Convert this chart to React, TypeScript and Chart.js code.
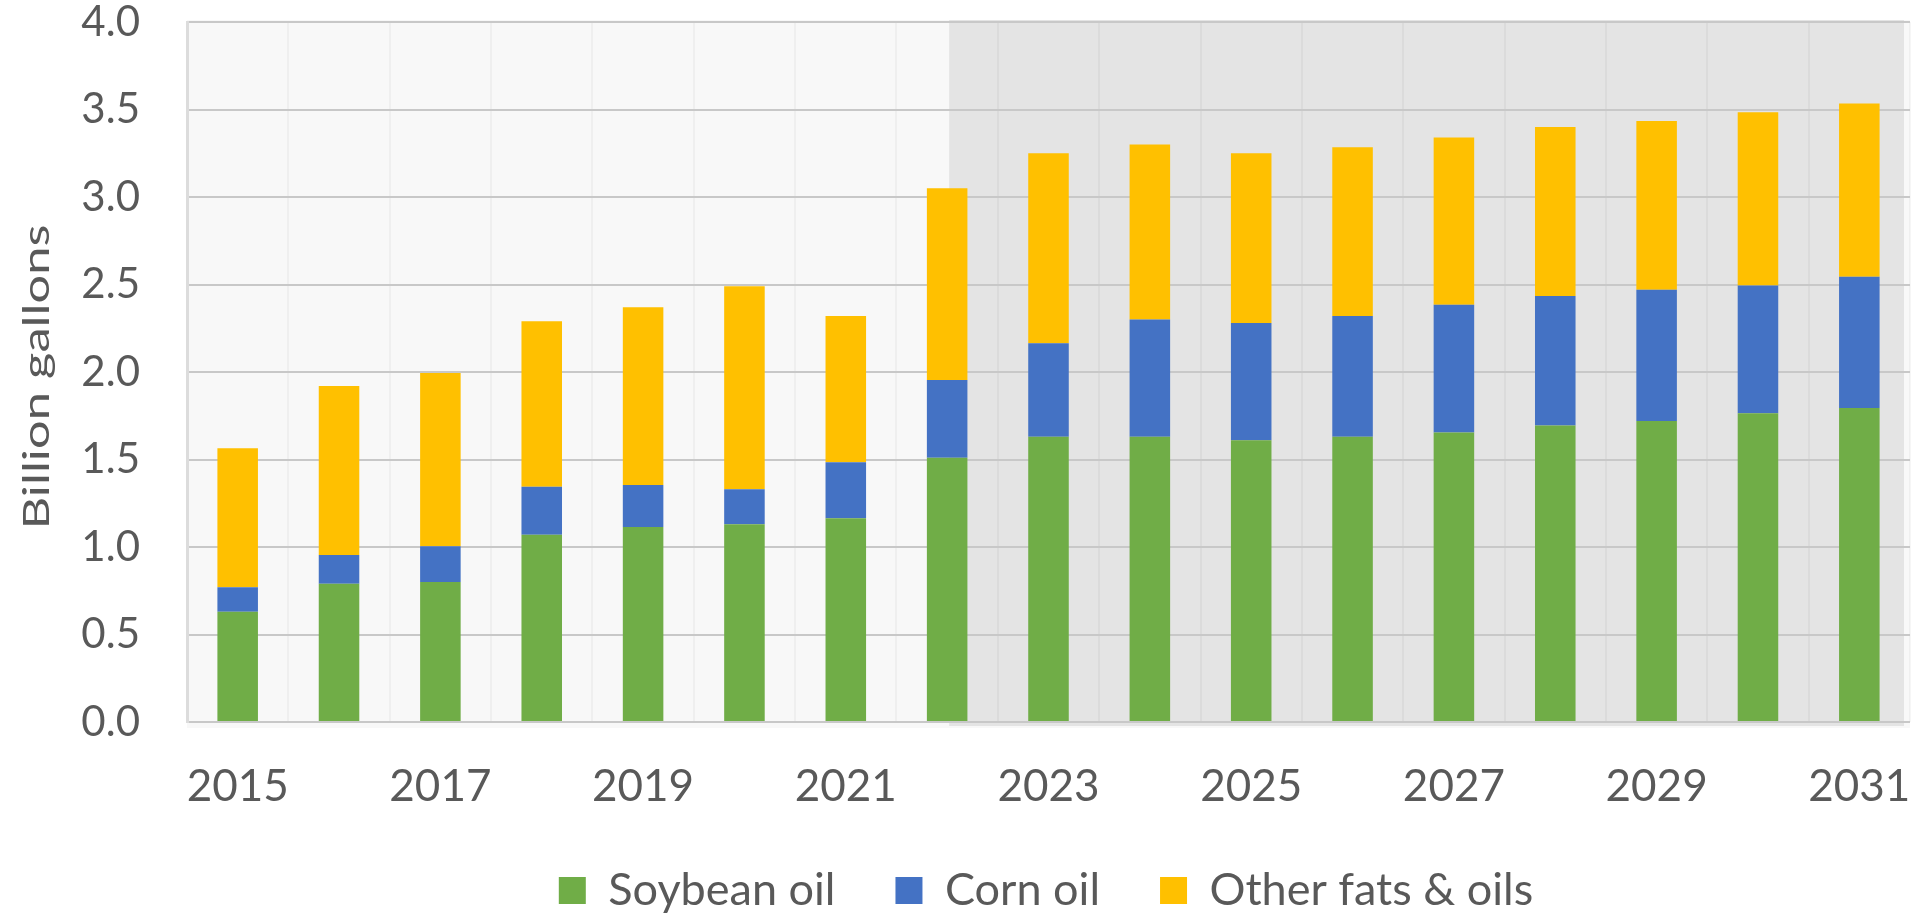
import React, { useEffect, useRef } from 'react';
import { Chart, registerables } from 'chart.js';

Chart.register(...registerables);

const years = ['2015', '2016', '2017', '2018', '2019', '2020', '2021', '2022', '2023', '2024', '2025', '2026', '2027', '2028', '2029', '2030', '2031'];
const soybeanOil = [0.63, 0.79, 0.8, 1.07, 1.115, 1.13, 1.165, 1.51, 1.63, 1.63, 1.61, 1.63, 1.655, 1.695, 1.72, 1.765, 1.795];
const cornOil = [0.14, 0.165, 0.205, 0.275, 0.24, 0.2, 0.32, 0.445, 0.535, 0.67, 0.67, 0.69, 0.73, 0.74, 0.75, 0.73, 0.75];
const otherFatsOils = [0.795, 0.965, 0.99, 0.945, 1.015, 1.16, 0.835, 1.095, 1.085, 1.0, 0.97, 0.965, 0.955, 0.965, 0.965, 0.99, 0.99];
const seriesNames = ['Soybean oil', 'Corn oil', 'Other fats & oils'];
const seriesColors = ['#70AD47', '#4472C4', '#FFC000'];
const yAxisTitle = 'Billion gallons';
const yMin = 0;
const yMax = 4;
const yStep = 0.5;
const projectionStartIndex = 7;

const FONT = 'Lato, Carlito, "Open Sans", sans-serif';
const TEXT_COLOR = '#595959';
const Y_TICK_SIZE = 42;

const backgroundPlugin = {
  id: 'bgShade',
  beforeDraw(chart: any) {
    const { ctx, chartArea, scales } = chart;
    const x = scales.x;
    ctx.save();
    ctx.fillStyle = '#ffffff';
    ctx.fillRect(0, 0, chart.width, chart.height);
    ctx.fillStyle = '#f8f8f8';
    ctx.fillRect(chartArea.left, chartArea.top - 2, chartArea.right - chartArea.left, chartArea.bottom - chartArea.top + 8);
    const xs = x.getPixelForValue(projectionStartIndex) + 2;
    ctx.fillStyle = '#e4e4e4';
    ctx.fillRect(xs, chartArea.top - 2, chartArea.right - 6 - xs, chartArea.bottom - chartArea.top + 6);
    ctx.restore();
  },
};

const yTitlePlugin = {
  id: 'yTitle',
  afterDraw(chart: any) {
    const { ctx, chartArea } = chart;
    ctx.save();
    const cy = (chartArea.top + chartArea.bottom) / 2 + 5;
    ctx.translate(49, cy);
    ctx.rotate(-Math.PI / 2);
    ctx.font = `37px ${FONT}`;
    const w = ctx.measureText(yAxisTitle).width;
    ctx.scale(305 / w, 1);
    ctx.textAlign = 'center';
    ctx.textBaseline = 'alphabetic';
    ctx.fillStyle = TEXT_COLOR;
    ctx.fillText(yAxisTitle, 0, 0);
    ctx.restore();
  },
};

export default function App() {
  const canvasRef = useRef<HTMLCanvasElement | null>(null);

  useEffect(() => {
    const canvas = canvasRef.current;
    if (!canvas) return;
    const mctx = document.createElement('canvas').getContext('2d') as CanvasRenderingContext2D;
    mctx.font = `${Y_TICK_SIZE}px ${FONT}`;
    const labelW = mctx.measureText('0.0').width;

    const datasets = [soybeanOil, cornOil, otherFatsOils].map((data, i) => ({
      label: seriesNames[i],
      data,
      backgroundColor: seriesColors[i],
      borderWidth: 0,
      barPercentage: 0.4,
      categoryPercentage: 1,
      stack: 'total',
    }));
    const chart = new Chart(canvas, {
      type: 'bar',
      data: { labels: years, datasets },
      plugins: [backgroundPlugin, yTitlePlugin],
      options: {
        responsive: false,
        animation: false,
        layout: { padding: { left: 182, right: 6, top: 22, bottom: -5 } },
        plugins: {
          legend: {
            position: 'bottom',
            labels: {
              font: { family: FONT, size: 45 },
              color: TEXT_COLOR,
              boxWidth: 27,
              boxHeight: 27,
              padding: 60,
            },
          },
          tooltip: { enabled: false },
          title: { display: false },
        },
        scales: {
          x: {
            stacked: true,
            grid: { color: 'rgba(0,0,0,0.035)', lineWidth: 2, drawTicks: false },
            border: { display: false },
            ticks: {
              autoSkip: false,
              maxRotation: 0,
              padding: 38,
              color: TEXT_COLOR,
              font: { family: FONT, size: 44 },
              callback: (_v: any, i: number) => (i % 2 === 0 ? years[i] : ''),
            },
            afterFit: (s: any) => {
              s.height = 86;
              s.paddingLeft = 0;
              s.paddingRight = 0;
            },
          },
          y: {
            stacked: true,
            min: yMin,
            max: yMax,
            grid: { color: '#c8c8c8', lineWidth: 2, drawTicks: false },
            border: { display: true, color: '#dcdcdc', width: 3 },
            ticks: {
              stepSize: yStep,
              mirror: true,
              padding: -(47 + labelW),
              color: TEXT_COLOR,
              font: { family: FONT, size: Y_TICK_SIZE },
              callback: (v: any) => Number(v).toFixed(1),
            },
            afterFit: (s: any) => {
              s.width = 5;
              s.paddingTop = 0;
              s.paddingBottom = 0;
            },
          },
        },
      },
    });
    return () => chart.destroy();
  }, []);

  return (
    <div style={{ position: 'fixed', left: 0, top: 0, width: 1916, height: 918, background: '#ffffff' }}>
      <canvas ref={canvasRef} width={1916} height={918} style={{ display: 'block' }} />
    </div>
  );
}
